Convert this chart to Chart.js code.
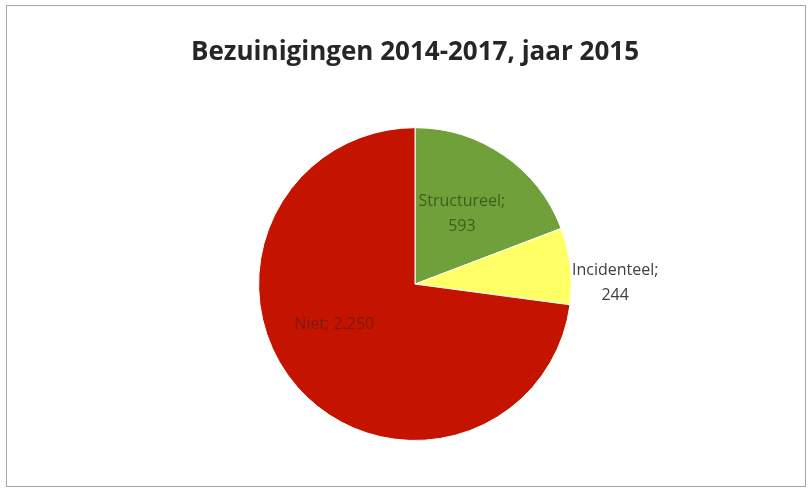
<!DOCTYPE html>
<html>
<head>
<meta charset="utf-8">
<script src="https://cdn.jsdelivr.net/npm/chart.js@4"></script>
<style>
  html, body { margin: 0; padding: 0; background: #ffffff; }
  #wrap { position: relative; width: 809px; height: 488px; }
  #frame { position: absolute; left: 6px; top: 5px; width: 798px; height: 480px; border: 1px solid #a6a6a6; pointer-events: none; }
  canvas { position: absolute; left: 0; top: 0; }
</style>
</head>
<body>
<div id="wrap">
  <canvas id="pie" width="809" height="488"></canvas>
  <div id="frame"></div>
</div>
<script>
// categories and values (jaar 2015)
var labels = ["Structureel", "Incidenteel", "Niet"];
var values = [593, 244, 2250];
var valueText = ["593", "244", "2.250"];

var colors = ["#70a03a", "#ffff66", "#c41400"];
var labelColors = ["#3f5e1e", "#404040", "#7a1a10"];
// label anchor, in units of the pie radius, relative to the pie centre
var labelOffsets = [[0.30, -0.446], [1.28, -0.006], [-0.516, 0.255]];

var sliceLabels = {
  id: "sliceLabels",
  afterDatasetsDraw: function(chart) {
    var ctx = chart.ctx;
    var meta = chart.getDatasetMeta(0);
    ctx.save();
    ctx.font = "16px 'Open Sans'";
    ctx.textAlign = "center";
    ctx.textBaseline = "middle";
    meta.data.forEach(function(arc, i) {
      var r = arc.outerRadius;
      var x = arc.x + labelOffsets[i][0] * r;
      var y = arc.y + labelOffsets[i][1] * r;
      ctx.fillStyle = labelColors[i];
      if (i == 2) {
        ctx.fillText(labels[i] + "; " + valueText[i], x, y);
      } else {
        ctx.fillText(labels[i] + ";", x, y - 12.5);
        ctx.fillText(valueText[i], x, y + 12.5);
      }
    });
    ctx.restore();
  }
};

var ctx = document.getElementById("pie").getContext("2d");
var chart = new Chart(ctx, {
  type: "pie",
  data: {
    labels: labels,
    datasets: [{
      data: values,
      backgroundColor: colors,
      borderColor: "#ffffff",
      borderWidth: 1
    }]
  },
  options: {
    responsive: false,
    animation: false,
    layout: {
      padding: { top: 0, bottom: 47, left: 21, right: 0 }
    },
    plugins: {
      legend: { display: false },
      tooltip: { enabled: false },
      title: {
        display: true,
        text: "Bezuinigingen 2014-2017, jaar 2015",
        color: "#262626",
        font: { family: "'Open Sans'", size: 26, weight: "bold", lineHeight: 1.2 },
        padding: { top: 37, bottom: 59 }
      }
    }
  },
  plugins: [sliceLabels]
});
</script>
</body>
</html>
